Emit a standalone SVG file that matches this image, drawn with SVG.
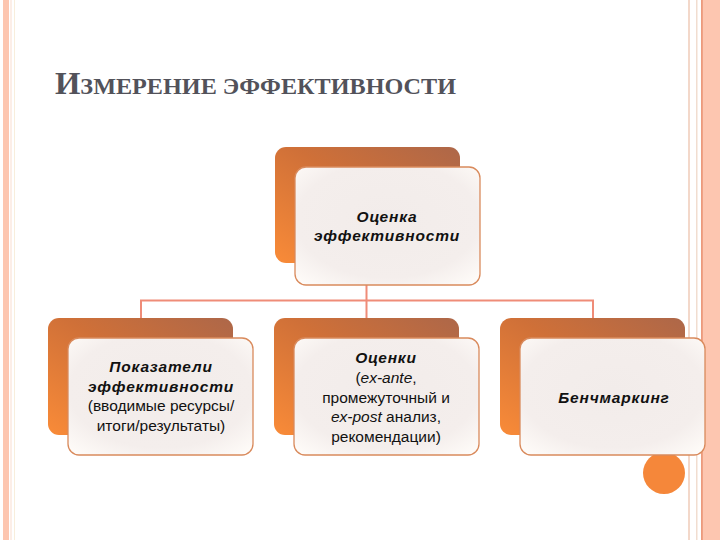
<svg xmlns="http://www.w3.org/2000/svg" width="720" height="540" viewBox="0 0 720 540">
<defs>
<linearGradient id="back" x1="1" y1="0" x2="0" y2="1">
<stop offset="0" stop-color="#ad6749"/>
<stop offset="0.45" stop-color="#cf7038"/>
<stop offset="1" stop-color="#f98b38"/>
</linearGradient>
<radialGradient id="front" cx="0.5" cy="0.45" r="0.7">
<stop offset="0" stop-color="#f2ecea"/>
<stop offset="0.7" stop-color="#f4eeec"/>
<stop offset="1" stop-color="#fefbf8"/>
</radialGradient>
<style>
.back{fill:url(#back);}
.front{fill:url(#front);stroke:#d98a5c;stroke-width:1.3;}
.t{font-family:"Liberation Sans",Arial,sans-serif;font-size:15.5px;fill:#111;text-anchor:middle;}
.b{font-weight:bold;font-style:italic;letter-spacing:0.8px;}
.conn{stroke:#ef8c78;stroke-width:2;fill:none;}
</style>
</defs>
<rect width="720" height="540" fill="#ffffff"/>
<!-- borders -->
<rect x="3" y="0" width="6" height="540" fill="#fdc6b0"/>
<rect x="10.5" y="0" width="1" height="540" fill="#f9ddd0"/>
<rect x="14" y="0" width="1" height="540" fill="#f8eedc"/>
<rect x="688" y="0" width="2" height="540" fill="#f3d8ca"/>
<rect x="696" y="0" width="1.5" height="540" fill="#f1ddd0"/>
<rect x="701" y="0" width="19" height="540" fill="#fdc6b0"/>
<rect x="701" y="0" width="1.8" height="540" fill="#ec9a7c"/>
<!-- title -->
<text x="55" y="94" font-family="'Liberation Serif','Times New Roman',serif" font-weight="bold" fill="#52525a" textLength="401" lengthAdjust="spacingAndGlyphs"><tspan font-size="31">И</tspan><tspan font-size="23">ЗМЕРЕНИЕ ЭФФЕКТИВНОСТИ</tspan></text>
<!-- connectors -->
<g id="connectors">
<path class="conn" d="M366.5 285 V318 M141 318 V300.5 H593 V318"/>
</g>
<!-- decoration circle -->
<circle cx="664" cy="473" r="21" fill="#f5873a"/>
<g id="node-top">
<rect class="back" x="275" y="147" width="185" height="116" rx="11"/>
<rect class="front" x="295" y="167" width="185" height="118" rx="11"/>
<text class="t b" x="387" y="222">Оценка</text>
<text class="t b" x="387" y="241">эффективности</text>
</g>
<g id="node-indicators">
<rect class="back" x="48" y="318" width="185" height="117" rx="11"/>
<rect class="front" x="68" y="338" width="185" height="117" rx="11"/>
<text class="t b" x="161" y="372">Показатели</text>
<text class="t b" x="161" y="392">эффективности</text>
<text class="t" x="161" y="411">(вводимые ресурсы/</text>
<text class="t" x="161" y="431">итоги/результаты)</text>
</g>
<g id="node-evaluations">
<rect class="back" x="274" y="318" width="185" height="117" rx="11"/>
<rect class="front" x="294" y="338" width="185" height="117" rx="11"/>
<text class="t b" x="386" y="363">Оценки</text>
<text class="t" x="386" y="383">(<tspan font-style="italic">ex-ante</tspan>,</text>
<text class="t" x="386" y="403">промежуточный и</text>
<text class="t" x="386" y="422"><tspan font-style="italic">ex-post</tspan> анализ,</text>
<text class="t" x="386" y="442">рекомендации)</text>
</g>
<g id="node-benchmarking">
<rect class="back" x="500" y="318" width="185" height="117" rx="11"/>
<rect class="front" x="520" y="338" width="185" height="117" rx="11"/>
<text class="t b" x="614" y="403">Бенчмаркинг</text>
</g>
</svg>
